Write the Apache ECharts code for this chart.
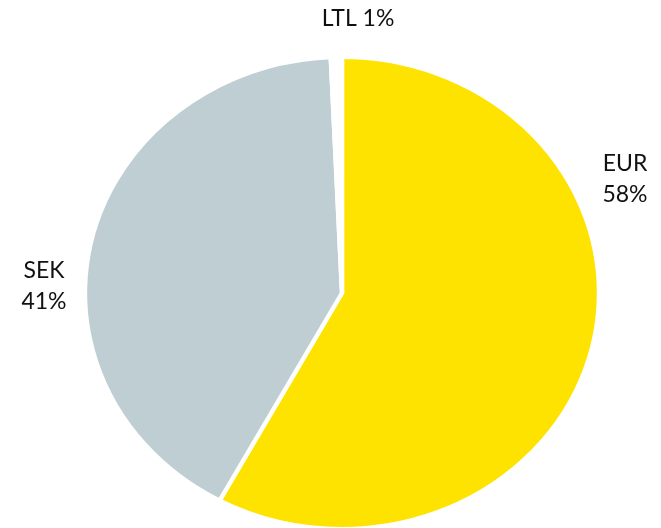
<!DOCTYPE html>
<html>
<head>
<meta charset="utf-8">
<script src="https://cdn.jsdelivr.net/npm/echarts@6/dist/echarts.min.js"></script>
<style>html,body{margin:0;padding:0;background:#fff}#c{width:661px;height:528px}</style>
</head>
<body>
<div id="c"></div>
<script>
// Data (share in %; labels show rounded values)
var categories = ['EUR', 'SEK', 'LTL'];
var shares = [57.9, 41.4, 0.7];
var colors = ['#FFE300', '#BFCED3', '#FFFFFF'];
var labelText = ['EUR\n58%', 'SEK\n41%', 'LTL 1%'];

// Layout
var CX = 342, CY = 293, RY = 236, SX = 257 / 236;
var labelPos = [[625, 179], [44, 286], [358, 19]];

var total = shares.reduce(function (a, b) { return a + b; }, 0);
var starts = [];
var acc = 0;
shares.forEach(function (v) { starts.push(acc); acc += v; });

var chart = echarts.init(document.getElementById('c'), null, { renderer: 'canvas' });
chart.setOption({
  animation: false,
  series: [{
    type: 'custom',
    coordinateSystem: 'none',
    data: shares.map(function (v, i) { return { name: categories[i], value: [v, i] }; }),
    renderItem: function (params, api) {
      var i = params.dataIndex;
      var v = api.value(0);
      var a0 = starts[i] / total * Math.PI * 2 - Math.PI / 2;
      var a1 = (starts[i] + v) / total * Math.PI * 2 - Math.PI / 2;
      return {
        type: 'group',
        children: [{
          type: 'group',
          x: CX, y: CY, scaleX: SX, scaleY: 1,
          children: [{
            type: 'sector',
            shape: { cx: 0, cy: 0, r0: 0, r: RY, startAngle: a0, endAngle: a1, clockwise: true },
            style: { fill: colors[i], stroke: '#FFFFFF', lineWidth: 4 }
          }]
        }, {
          type: 'text',
          x: labelPos[i][0], y: labelPos[i][1],
          z2: 10,
          style: {
            text: labelText[i],
            fill: '#111111',
            fontFamily: 'Lato',
            fontSize: 23,
            lineHeight: 31,
            align: 'center',
            verticalAlign: 'middle'
          }
        }]
      };
    }
  }]
});
</script>
</body>
</html>
